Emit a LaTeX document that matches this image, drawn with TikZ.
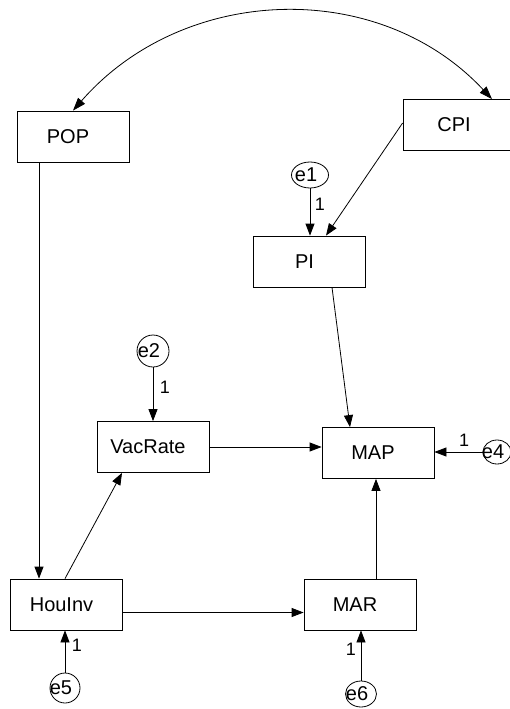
\documentclass[tikz,border=0pt]{standalone}
\usepackage{fontspec}
\setmainfont{Liberation Sans}
\usetikzlibrary{arrows.meta,shapes.geometric,calc}

% error-term label: zero-width, nudged left and down inside its ellipse
\newcommand\errlabel[1]{\makebox[0pt]{\kern-8pt\raisebox{-2pt}{#1}}}

\begin{document}
\begin{tikzpicture}[x=1pt,y=-1pt,
  every node/.style={font=\fontsize{20}{23}\selectfont},
  obsvar/.style={draw, line width=0.8pt, rectangle, minimum width=112pt,
    minimum height=51pt, inner sep=0pt, execute at begin node={\kern-10pt}},
  errvar/.style={draw, line width=0.8pt, ellipse, inner sep=0pt},
  path1/.style={draw, line width=0.8pt, -{Triangle[length=12pt,width=9pt]}},
  cov/.style={draw, line width=0.8pt,
    {Triangle[length=13pt,width=9pt]}-{Triangle[length=13pt,width=9pt]}},
  lbl/.style={font=\fontsize{18}{20}\selectfont, inner sep=0pt}]

\clip (0,0) rectangle (510,709);
\fill[white] (0,0) rectangle (510,709);

% observed variables
\node[obsvar] (POP)    at (73,136.5)  {POP};
\node[obsvar] (CPI)    at (459,125)   {CPI};
\node[obsvar] (PI)     at (309.5,261.5) {PI};
\node[obsvar] (VacRate) at (153,447)  {VacRate};
\node[obsvar] (MAP)    at (378,453)   {MAP};
\node[obsvar] (HouInv) at (66.5,604.5) {HouInv};
\node[obsvar] (MAR)    at (360,604.5) {MAR};

% error terms
\node[errvar, minimum width=37pt, minimum height=26pt] (e1) at (310,175) {\errlabel{e1}};
\node[errvar, minimum width=32pt, minimum height=32pt] (e2) at (153,351) {\errlabel{e2}};
\node[errvar, minimum width=28pt, minimum height=24pt] (e4) at (497,452) {\errlabel{e4}};
\node[errvar, minimum width=30pt, minimum height=30pt] (e5) at (65,688) {\errlabel{e5}};
\node[errvar, minimum width=31pt, minimum height=26pt] (e6) at (361,694) {\errlabel{e6}};

% covariance between the exogenous variables
\path[cov] (POP.north) .. controls +(110,-126) and +(-114,-122) .. ([xshift=33pt]CPI.north);

% regression paths
\coordinate (popout) at ([xshift=-34pt]POP.south);
\path[path1] (popout) -- (popout |- HouInv.north);
\path[path1] ([xshift=-1.5pt]HouInv.north) -- ([xshift=-31pt]VacRate.south);
\path[path1] (VacRate.east) -- (VacRate.east -| MAP.west);
\path[path1] ([yshift=-8pt]HouInv.east) -- ([yshift=-8pt]HouInv.east -| MAR.west);
\coordinate (marout) at ([xshift=16pt]MAR.north);
\path[path1] (marout) -- (marout |- MAP.south);
\path[path1] ([xshift=22.5pt]PI.south) -- ([xshift=-28pt]MAP.north);
\path[path1] ([yshift=2pt]CPI.west) -- ([xshift=16.5pt]PI.north);

% error paths
\path[path1] (e1) -- (e1 |- PI.north);
\path[path1] (e2) -- (e2 |- VacRate.north);
\path[path1] (e4) -- (e4 -| MAP.east);
\path[path1] (e5) -- (e5 |- HouInv.south);
\path[path1] (e6) -- (e6 |- MAR.south);

% fixed loadings
\node[lbl] (l1) at (320,204) {1};
\node[lbl] (l2) at (165,387) {1};
\node[lbl] (l4) at (464,440) {1};
\node[lbl] (l5) at (77,645)  {1};
\node[lbl] (l6) at (351,649) {1};
\end{tikzpicture}
\end{document}
